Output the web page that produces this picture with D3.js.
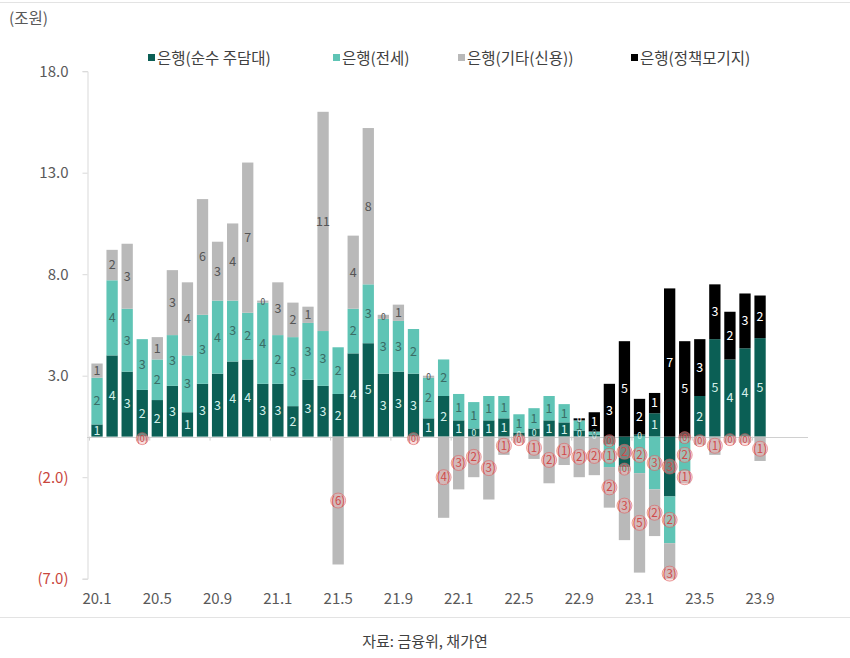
<!DOCTYPE html>
<html><head><meta charset="utf-8">
<script src="https://cdn.jsdelivr.net/npm/d3@7/dist/d3.min.js"></script>
<style>
html,body{margin:0;padding:0;background:#fff;}
svg{display:block;font-family:"Noto Sans CJK KR","Noto Sans",sans-serif;}
</style></head>
<body><svg id="c" width="850" height="658"></svg>
<script>
const months = ["20.1","20.2","20.3","20.4","20.5","20.6","20.7","20.8","20.9","20.10","20.11","20.12",
"21.1","21.2","21.3","21.4","21.5","21.6","21.7","21.8","21.9","21.10","21.11","21.12",
"22.1","22.2","22.3","22.4","22.5","22.6","22.7","22.8","22.9","22.10","22.11","22.12",
"23.1","23.2","23.3","23.4","23.5","23.6","23.7","23.8","23.9"];
const pureMortgage = [0.6,4.0,3.2,2.3,1.8,2.5,1.2,2.6,3.1,3.7,3.8,2.6, 2.6,1.5,2.8,2.5,2.1,4.1,4.6,3.1,3.2,3.1,0.9,2.0, 0.8,0.4,0.8,0.9,0.2,0.4,0.8,0.7,0.3,0.1,-0.4,-1.5, 0.1,1.15,-2.95,-0.1,2.0,4.8,3.8,4.35,4.85];
const jeonse = [2.3,3.7,3.1,2.5,2.0,2.5,2.8,3.4,3.6,3.0,2.3,4.0, 2.4,3.4,2.8,2.7,2.3,2.2,2.9,2.7,2.5,2.2,2.0,1.8, 1.3,1.3,1.2,1.1,0.9,1.0,1.2,0.9,0.5,0.15,-1.1,-0.2, -1.8,-2.6,-2.3,-1.6,0,0,0,0,0];
const otherCredit = [0.7,1.5,3.2,-0.2,1.1,3.2,3.6,5.7,2.9,3.8,7.4,0.1, 2.6,1.7,0.8,10.8,-6.3,3.6,7.7,0.2,0.8,-0.2,0.1,-4.0, -2.6,-2.0,-3.1,-0.9,-0.3,-1.1,-2.3,-1.4,-2.0,-1.9,-2.0,-3.4, -4.9,-2.3,-3.0,-0.6,-0.4,-0.9,-0.3,-0.3,-1.2];
const policyMortgage = [0,0,0,0,0,0,0,0,0,0,0,0, 0,0,0,0,0,0,0,0,0,0,0,0, 0,0,0,0,0,0,0,0,0.1,0.95,2.6,4.7, 1.76,1.0,7.3,4.7,2.8,2.7,2.35,2.7,2.1];
const seriesNames = ["은행(순수 주담대)","은행(전세)","은행(기타(신용))","은행(정책모기지)"];
const seriesColors = ["#0b5f55","#5fc4b5","#b9b9b9","#000000"];
const labelColors = ["#d5efe9","#3a6d66","#555555","#ffffff"];
const xTickLabels = ["20.1","20.5","20.9","21.1","21.5","21.9","22.1","22.5","22.9","23.1","23.5","23.9"];
const yTickValues = [18,13,8,3,-2,-7];
const unitLabel = "(조원)";
const sourceText = "자료: 금융위, 채가연";

const svg = d3.select("#c");
const keys = ["a","b","c","d"];
const rows = months.map((m,i)=>({m, a:pureMortgage[i], b:jeonse[i], c:otherCredit[i], d:policyMortgage[i]}));
const stacked = d3.stack().keys(keys).offset(d3.stackOffsetDiverging)(rows);

const x = d3.scaleBand().domain(months).range([89.5,767.6]).paddingInner(0.25).paddingOuter(0.125);
const y = d3.scaleLinear().domain([-7,18]).range([578.7,71.2]);

svg.append("line").attr("x1",0).attr("x2",850).attr("y1",2.5).attr("y2",2.5).attr("stroke","#e3e3e3");
svg.append("line").attr("x1",0).attr("x2",850).attr("y1",617.5).attr("y2",617.5).attr("stroke","#e3e3e3");

svg.append("text").attr("x",9).attr("y",24).attr("font-size",15.5).attr("fill","#595959").text(unitLabel);

const yAxis = svg.append("g").attr("transform","translate(87.5,0)")
  .call(d3.axisLeft(y).tickValues(yTickValues).tickSize(5).tickPadding(14)
    .tickFormat(v => v<0 ? `(${(-v).toFixed(1)})` : v.toFixed(1)));
yAxis.select(".domain").attr("stroke","#d9d9d9");
yAxis.selectAll(".tick line").attr("stroke","#d9d9d9");
yAxis.selectAll(".tick text").attr("font-size",15).attr("font-family","'Noto Sans CJK KR','Noto Sans',sans-serif")
  .attr("fill", v => v<0 ? "#c9463d" : "#595959");

svg.append("line").attr("x1",87).attr("x2",808).attr("y1",Math.round(y(0))+0.5).attr("y2",Math.round(y(0))+0.5).attr("stroke","#d0d0d0");

svg.append("clipPath").attr("id","pc").append("rect").attr("x",87).attr("y",y(18)).attr("width",730).attr("height",y(-7)-y(18));

const g = svg.append("g").attr("clip-path","url(#pc)");
stacked.forEach((s,si)=>{
  g.selectAll(null).data(s.filter(d=>d[1]!==d[0])).enter().append("rect")
   .attr("x",d=>x(d.data.m)).attr("width",x.bandwidth())
   .attr("y",d=>y(Math.max(d[0],d[1]))).attr("height",d=>Math.abs(y(d[0])-y(d[1])))
   .attr("fill",seriesColors[si]);
});

const xAxis = svg.append("g").attr("transform",`translate(0,${y(-7)})`)
  .call(d3.axisBottom(x).tickValues(xTickLabels).tickSize(0).tickPadding(15));
xAxis.select(".domain").remove();
xAxis.selectAll(".tick text").attr("font-size",15).attr("fill","#595959").attr("font-family","'Noto Sans CJK KR','Noto Sans',sans-serif");
svg.selectAll(null).data(xTickLabels).enter().append("line")
  .attr("x1",d=>x(d)-x.step()*x.paddingInner()/2).attr("x2",d=>x(d)-x.step()*x.paddingInner()/2)
  .attr("y1",y(0)).attr("y2",y(0)+4).attr("stroke","#d0d0d0");

const lg = svg.append("g").attr("text-anchor","middle");
stacked.forEach((s,si)=>{
  s.forEach((d,i)=>{
    const v = d.data[keys[si]];
    if (v===0) return;
    const cx = x(d.data.m)+x.bandwidth()/2;
    const cy = (y(d[0])+y(d[1]))/2;
    const h = Math.abs(y(d[0])-y(d[1]));
    const tiny = h < 9;
    if (v<0){
      lg.append("circle").attr("cx",cx).attr("cy",cy).attr("r",tiny?6:7.5)
        .attr("fill","rgba(245,185,185,0.45)").attr("stroke","rgba(220,90,90,0.55)").attr("stroke-width",1);
      lg.append("text").attr("x",cx).attr("y",cy).attr("dy","0.35em").attr("fill","#d04a4a")
        .attr("font-size",tiny?9:11.5).text(`(${Math.round(-v)})`);
    } else {
      lg.append("text").attr("x",cx).attr("y",cy).attr("dy","0.35em").attr("fill",labelColors[si])
        .attr("font-size",tiny?8.5:12.5).text(Math.round(v));
    }
  });
});

const legendX = [148,333,458,631];
const leg = svg.append("g");
seriesNames.forEach((n,i)=>{
  leg.append("rect").attr("x",legendX[i]).attr("y",54).attr("width",7).attr("height",7).attr("fill",seriesColors[i]);
  leg.append("text").attr("x",legendX[i]+9).attr("y",63.5).attr("font-size",15.5).attr("fill","#404040").text(n);
});

svg.append("text").attr("x",425).attr("y",647).attr("text-anchor","middle").attr("font-size",15).attr("fill","#404040").text(sourceText);
</script></body></html>
